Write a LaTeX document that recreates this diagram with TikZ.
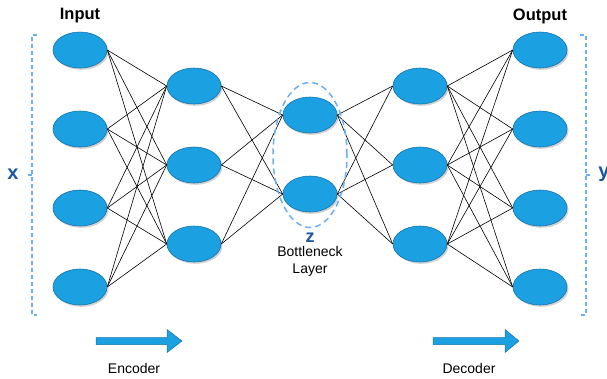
\documentclass[tikz,border=0pt]{standalone}
\usepackage{fontspec}
\setmainfont{Liberation Sans}
\usetikzlibrary{shapes.geometric,shadows}

\definecolor{nodefill}{RGB}{27,160,225}
\definecolor{nodeline}{RGB}{22,115,175}
\definecolor{dashblue}{RGB}{105,175,250}
\definecolor{labelblue}{RGB}{28,85,160}

\tikzset{
  neuron/.style={ellipse, minimum width=54pt, minimum height=36pt, inner sep=0pt,
    fill=nodefill, draw=nodeline, line width=0.6pt,
    drop shadow={shadow xshift=1.5pt, shadow yshift=-1.8pt, fill=black!40, opacity=0.45}},
  conn/.style={black, line width=0.6pt},
  bracket/.style={dashblue, line width=1.3pt, dash pattern=on 4pt off 3pt},
  heading/.style={font=\fontsize{16.5}{19}\selectfont\bfseries},
  caption/.style={font=\fontsize{14}{17}\selectfont},
  varlabel/.style={font=\fontsize{20}{22}\selectfont\bfseries, text=labelblue},
  blockarrow/.style={fill=nodefill, draw=nodeline, line width=0.5pt}
}

\begin{document}
\begin{tikzpicture}[x=1pt, y=-1pt]
\useasboundingbox (0,0) rectangle (607,378);

% input layer
\foreach \k/\yy in {1/50, 2/129, 3/208, 4/287}
  \node[neuron] (i\k) at (80,\yy) {};
% encoder hidden layer
\foreach \k/\yy in {1/86, 2/165, 3/244}
  \node[neuron] (e\k) at (194,\yy) {};
% bottleneck
\foreach \k/\yy in {1/115, 2/194}
  \node[neuron] (z\k) at (310,\yy) {};
% decoder hidden layer
\foreach \k/\yy in {1/86, 2/165, 3/244}
  \node[neuron] (d\k) at (420,\yy) {};
% output layer
\foreach \k/\yy in {1/50, 2/129, 3/208, 4/287}
  \node[neuron] (o\k) at (540,\yy) {};

% full connections between consecutive layers
\foreach \a in {1,...,4} \foreach \b in {1,...,3}
  \draw[conn] (i\a.east) -- (e\b.west);
\foreach \a in {1,...,3} \foreach \b in {1,2}
  \draw[conn] (e\a.east) -- (z\b.west);
\foreach \a in {1,2} \foreach \b in {1,...,3}
  \draw[conn] (z\a.east) -- (d\b.west);
\foreach \a in {1,...,3} \foreach \b in {1,...,4}
  \draw[conn] (d\a.east) -- (o\b.west);

% bottleneck outline
\node[ellipse, draw=dashblue, line width=1.5pt, dash pattern=on 6pt off 4pt,
      minimum width=74pt, minimum height=145pt] (bneck) at (310,155) {};
\node[varlabel, font=\fontsize{18}{20}\selectfont\bfseries] (zlab) at (310,238) {z};
\node[caption, align=center] (bcap) at (310,261) {Bottleneck\\Layer};

% headings
\node[heading] (inlab) at (80,16) {Input};
\node[heading] (outlab) at (540,16) {Output};

% input bracket
\draw[bracket] (37,35) -- (32,35) -- (32,315) -- (37,315);
\draw[bracket] (32,175) -- (27,175);
\node[varlabel] (xlab) at (13,174) {x};

% output bracket
\draw[bracket] (580,35) -- (586,35) -- (586,315) -- (580,315);
\draw[bracket] (586,175) -- (591,175);
\node[varlabel] (ylab) at (604,174) {y};

% encoder / decoder arrows
\filldraw[blockarrow] (96,337.5) -- (167,337.5) -- (167,329.5) -- (182,341)
  -- (167,352.5) -- (167,344.5) -- (96,344.5) -- cycle;
\node[caption] (enc) at (134,368) {Encoder};
\filldraw[blockarrow] (433,337.5) -- (505,337.5) -- (505,329.5) -- (519,341)
  -- (505,352.5) -- (505,344.5) -- (433,344.5) -- cycle;
\node[caption] (dec) at (469,368) {Decoder};
\end{tikzpicture}
\end{document}
